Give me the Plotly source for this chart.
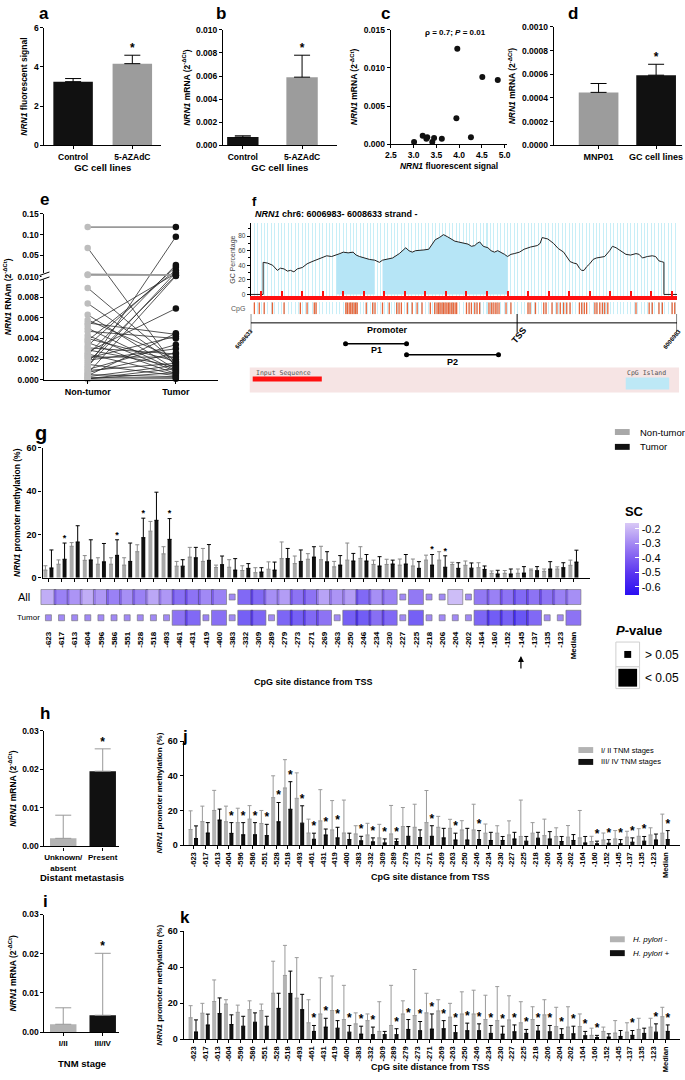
import numpy as np
import plotly.graph_objects as go

W, H = 685, 1080
FONT = "Liberation Sans"

# ---------------- panels a-d : GC cell lines
a_groups = ["Control", "5-AZAdC"]
a_signal = [3.25, 4.17]
a_sd = [0.16, 0.43]
b_groups = ["Control", "5-AZAdC"]
b_mrna = [0.00072, 0.0059]
b_sd = [0.00011, 0.0019]
c_signal = [3.01, 3.20, 3.28, 3.30, 3.41, 3.45, 3.62, 3.94, 3.96, 4.26, 4.51, 4.85]
c_mrna = [0.0003, 0.0011, 0.0007, 0.0009, 0.0003, 0.0008, 0.0007, 0.0034, 0.0125, 0.0009, 0.0088, 0.0084]
d_groups = ["MNP01", "GC cell lines"]
d_mrna = [0.000447, 0.000592]
d_sd = [0.000075, 0.000092]

# ---------------- panel e : paired tissue samples
e_nontumor = [0.118, 0.068, 0.014, 0.013, 0.0089, 0.0074, 0.0063, 0.0058, 0.0055, 0.0053,
              0.0050, 0.0047, 0.0043, 0.0040, 0.0038, 0.0036, 0.0033, 0.0031, 0.0029, 0.0027,
              0.0025, 0.0024, 0.0022, 0.0021, 0.0019, 0.0017, 0.0015, 0.0013, 0.0012, 0.0010,
              0.0009, 0.0007, 0.0006, 0.0005, 0.0004, 0.0003, 0.0002, 0.0001, 0.0001, 0.00005]
e_tumor = [0.118, 0.0012, 0.013, 0.013, 0.0017, 0.0015, 0.0010, 0.0020, 0.0044, 0.016,
           0.0009, 0.0040, 0.0008, 0.0018, 0.022, 0.0006, 0.028, 0.0025, 0.0013, 0.0069,
           0.0005, 0.032, 0.0022, 0.0042, 0.0030, 0.012, 0.0004, 0.018, 0.095, 0.0034,
           0.0016, 0.0026, 0.011, 0.0003, 0.0045, 0.0014, 0.0002, 0.0011, 0.0007, 0.0001]
e_gray_pairs = [0, 2, 3]

# ---------------- panel f : CpG plot of the NRN1 promoter (bp from 6008633)
gc_pos = [0, 48, 48, 65, 85, 103, 115, 129, 142, 154,
          167, 180, 200, 218, 237, 256, 275, 294, 313, 332,
          345, 358, 377, 396, 408, 421, 440, 460, 480, 498,
          510, 523, 536, 549, 575, 600, 612, 625, 638, 651,
          670, 689, 700, 714, 730, 746, 762, 778, 790, 803,
          822, 841, 854, 867, 876, 886, 900, 918, 930, 943,
          956, 969, 982, 994, 1007, 1020, 1040, 1058, 1083, 1109,
          1120, 1128, 1150, 1172, 1190, 1211, 1225, 1236, 1250, 1262,
          1272, 1281, 1290, 1300, 1312, 1325, 1338, 1351, 1370, 1389,
          1400, 1414, 1433, 1452, 1470, 1491, 1503, 1516, 1535, 1554,
          1567, 1580, 1590, 1599, 1599, 1650]
gc_pct = [0, 0, 44, 43, 40, 33, 36, 35, 32, 33,
          31, 35, 37, 42, 45, 48, 50, 53, 52, 54,
          56, 58, 57, 58, 54, 52, 50, 48, 47, 44,
          47, 48, 50, 50, 56, 64, 60, 58, 60, 60,
          61, 62, 68, 75, 78, 82, 79, 75, 73, 72,
          70, 69, 66, 67, 70, 72, 66, 64, 60, 58,
          60, 58, 55, 52, 55, 56, 58, 62, 65, 67,
          70, 78, 76, 70, 63, 58, 50, 45, 43, 42,
          36, 33, 33, 38, 42, 48, 50, 51, 52, 60,
          66, 64, 60, 55, 54, 56, 55, 50, 52, 53,
          52, 46, 45, 44, 0, 0]
island_start = [332, 504]
island_end = [488, 1000]
cpg_sites_bp = [14, 33, 52, 84, 129, 192, 218, 246, 253, 368, 374, 381, 387, 393, 400, 406, 412,
                447, 472, 481, 510, 536, 565, 574, 583, 606, 625, 644, 663, 695, 712, 721, 727,
                733, 740, 746, 752, 759, 765, 771, 778, 784, 791, 797, 835, 845, 854, 867, 876,
                886, 922, 931, 938, 946, 953, 961, 988, 1007, 1073, 1081, 1102, 1134, 1143, 1166,
                1185, 1198, 1211, 1223, 1236, 1272, 1281, 1291, 1300, 1332, 1340, 1351, 1361,
                1370, 1382, 1491, 1542, 1554, 1580, 1593, 1631, 1641]
seq_len = 1650
tss_bp = 1031
p1_bp = [367, 603]
p2_bp = [603, 959]

# ---------------- panels g, j, k : CpG sites
sites = ["-623", "-617", "-613", "-604", "-596", "-586", "-551", "-528", "-518", "-493",
         "-461", "-431", "-419", "-400", "-383", "-332", "-309", "-289", "-279", "-273",
         "-271", "-269", "-263", "-250", "-246", "-234", "-230", "-227", "-225", "-218",
         "-206", "-204", "-202", "-164", "-160", "-152", "-145", "-137", "-135", "-123", "Median"]

g_nontumor = [3.5, 6.2, 14.5, 8.0, 6.2, 6.2, 5.8, 12.0, 21.5, 11.0,
              5.3, 9.5, 7.5, 4.7, 4.8, 3.3, 2.3, 3.9, 8.8, 6.5,
              8.5, 8.3, 5.0, 8.1, 8.9, 6.1, 6.1, 5.8, 5.4, 8.1,
              8.1, 6.1, 5.7, 4.6, 2.0, 2.0, 2.0, 3.5, 2.9, 4.0, 5.7]
g_nontumor_hi = [5.5, 8.2, 16.2, 10.2, 9.2, 9.2, 9.2, 15.2, 26.0, 14.3,
                 7.5, 14.0, 13.5, 5.8, 8.3, 5.5, 4.6, 7.3, 16.5, 10.0,
                 11.1, 14.5, 7.5, 16.0, 14.3, 8.1, 8.5, 8.6, 8.6, 10.4,
                 12.0, 7.1, 7.7, 6.9, 3.1, 3.3, 4.0, 4.0, 4.0, 5.0, 8.1]
g_tumor = [4.5, 8.5, 16.5, 8.2, 7.3, 10.3, 7.5, 18.5, 26.5, 17.7,
           5.3, 9.2, 8.0, 6.0, 3.5, 4.3, 2.6, 3.5, 8.8, 7.5,
           9.5, 7.3, 5.8, 7.7, 7.7, 5.4, 6.3, 6.3, 4.3, 5.8,
           4.8, 4.3, 4.4, 3.8, 1.7, 1.7, 2.1, 3.2, 4.0, 4.6, 7.2]
g_tumor_hi = [12.8, 16.0, 24.0, 17.5, 15.8, 17.5, 16.0, 27.5, 39.5, 27.3,
              8.3, 14.0, 15.3, 10.0, 8.8, 6.5, 4.6, 7.2, 13.5, 12.8,
              14.3, 12.0, 10.2, 11.2, 10.7, 9.7, 8.1, 10.7, 7.4, 10.7,
              10.1, 6.9, 6.8, 5.4, 3.4, 4.0, 5.1, 5.1, 7.4, 6.9, 12.7]
g_star = [1, 5, 7, 9, 29, 30]

sc_all = [-0.30, -0.45, -0.38, -0.30, -0.37, -0.45, -0.40, -0.45, -0.32, -0.37,
          -0.52, -0.50, -0.42, -0.45, -0.42, -0.55, -0.55, -0.40, -0.35, -0.50,
          -0.50, -0.33, -0.38, -0.35, -0.55, -0.40, -0.45, -0.42, -0.48, -0.42,
          -0.42, -0.25, -0.42, -0.48, -0.45, -0.50, -0.55, -0.50, -0.50, -0.45, -0.40]
sig_all = [1, 1, 1, 1, 1, 1, 1, 1, 1, 1,
           1, 1, 1, 1, 0, 1, 1, 1, 1, 1,
           1, 1, 1, 1, 1, 1, 1, 0, 1, 0,
           0, 1, 0, 1, 1, 1, 1, 1, 1, 1, 1]
sc_tumor = [-0.42, -0.42, -0.42, -0.42, -0.42, -0.42, -0.42, -0.42, -0.42, -0.42,
            -0.50, -0.55, -0.45, -0.52, -0.42, -0.60, -0.57, -0.42, -0.57, -0.60,
            -0.55, -0.50, -0.42, -0.60, -0.62, -0.52, -0.55, -0.42, -0.60, -0.42,
            -0.42, -0.42, -0.42, -0.57, -0.62, -0.60, -0.68, -0.55, -0.42, -0.42, -0.50]
sig_tumor = [0, 0, 0, 0, 0, 0, 0, 0, 0, 0,
             1, 1, 0, 1, 0, 1, 1, 0, 1, 1,
             1, 1, 0, 1, 1, 1, 1, 0, 1, 0,
             0, 0, 0, 1, 1, 1, 1, 1, 0, 0, 1]

j_early = [9, 13.6, 20, 13.5, 13, 15, 12.5, 27.4, 33, 27,
           7, 14, 8.8, 7, 6.5, 5.9, 4.2, 6.5, 10.7, 10.3,
           13, 10.3, 9.7, 8.8, 8.8, 6.9, 6.9, 5.9, 5, 6.9,
           5.5, 5, 4.6, 4.2, 2.1, 3, 3.6, 4.6, 5.1, 5.9, 6.9]
j_early_hi = [19.8, 22.5, 31.6, 22.5, 21.3, 22.8, 20, 40, 49.3, 41.7,
              15, 32, 25.7, 26, 11.2, 12.6, 12, 22.9, 21.7, 23.6,
              31.5, 16.6, 14.9, 14.1, 23.6, 12.2, 11.2, 14, 26, 13,
              15, 10, 11.3, 20, 5.1, 7, 8.4, 8, 9.5, 10, 17.9]
j_late = [3.8, 7, 14.5, 6.8, 6, 6, 5.5, 13.5, 20.7, 12.7,
          3.4, 5.9, 4.2, 3.2, 2.5, 1.9, 1.3, 2.1, 5.1, 4.4,
          5.1, 4.2, 3, 3, 3.2, 2.7, 2.7, 3.6, 2.3, 4,
          3.6, 2.1, 2.7, 1.3, 0.8, 1.1, 0.8, 1.7, 2.3, 3, 3.2]
j_late_hi = [11.1, 13, 20.8, 13, 13, 13, 12, 24.6, 36.6, 22.7,
             6.9, 9.3, 10.3, 6.9, 5.1, 4.2, 3.6, 3.6, 10.7, 8.8,
             11.2, 9.7, 6.9, 9.7, 8.4, 7.4, 5, 7.4, 5, 7.4,
             7.8, 5, 6.1, 5, 2.3, 3.2, 3.2, 4.2, 5, 6.4, 8.4]
j_star = [3, 4, 5, 6, 7, 8, 9, 10, 11, 12, 14, 15, 16, 17, 20, 22, 24, 34, 35, 36, 37, 38, 40]

k_neg = [12, 14.5, 21, 19.6, 15, 16.5, 16, 25.6, 35.5, 22.9,
         9.2, 14.1, 16, 11, 8.6, 10.4, 4.4, 7.7, 14.1, 13.2,
         14.7, 15.8, 12.3, 14.1, 14.1, 11, 10.4, 10.8, 9.2, 11,
         13.6, 7.1, 6.8, 7.1, 2.2, 4.4, 3.5, 4, 5.5, 6.8, 12.6]
k_neg_hi = [18.7, 20, 33, 22, 19, 21.4, 19.6, 43.4, 52.2, 45.4,
            22, 34.2, 35.2, 30, 14.7, 14.1, 20.9, 30, 21.4, 38.8,
            25.6, 22, 20, 26.4, 27.3, 24.5, 29.3, 24.2, 20.9, 18.1,
            22, 17.8, 18.1, 14.1, 6.2, 6.8, 10.4, 9.2, 11.7, 11.7, 17.8]
k_pos = [4.1, 8, 14.3, 8.2, 7.3, 9.5, 7.3, 17.2, 25.5, 16.5,
         4.4, 6.8, 6.2, 4, 2.9, 2.6, 2.6, 2.6, 5.5, 4.8,
         5.7, 5.9, 3.7, 4.8, 4.8, 3.3, 2.9, 4.2, 3.3, 4.6,
         4.2, 2.7, 3.1, 2, 0.9, 1.3, 1.6, 2.2, 3.3, 4, 4.4]
k_pos_hi = [10.8, 14, 23, 13.6, 12.8, 14.7, 12.8, 25.6, 37.9, 25,
            7.7, 11.7, 10.4, 7.7, 7.3, 6.8, 4.4, 5.9, 11, 9.9,
            14.1, 10.4, 7.7, 9, 8.6, 7.7, 7.3, 8, 5.5, 7.7,
            7.7, 5.9, 7.3, 4.4, 2.2, 3.1, 4.9, 4.9, 6.2, 8.6, 8]
k_star = [10, 11, 12, 13, 14, 15, 17, 18, 19, 20, 21, 22, 23, 24, 25, 26, 27, 28, 29, 30,
          31, 32, 33, 34, 37, 39, 40]

# ---------------- panels h, i
h_groups = ["Unknown/<br>absent", "Present"]
h_mrna = [0.0021, 0.0195]
h_sd = [0.006, 0.0058]
i_groups = ["I/II", "III/IV"]
i_mrna = [0.002, 0.0043]
i_sd = [0.0042, 0.0158]

GRAY = "#9c9c9c"
LGRAY = "#b3b3b3"
BLACK = "#111111"


def xd(a, b):
    return [a / W, b / W]


def yd(top, bot):
    return [1 - bot / H, 1 - top / H]


def P(x, y):
    return x / W, 1 - y / H


def ref(n):
    s = "" if n == 1 else str(n)
    return "x" + s, "y" + s


TICK = dict(family=FONT, size=8.5, color="black", weight="bold")


def ax(dom, rng, **kw):
    d = dict(domain=dom, range=rng, showline=True, linecolor="black", linewidth=1.2,
             ticks="outside", ticklen=3, tickwidth=1, tickcolor="black",
             showgrid=False, zeroline=False, tickfont=TICK, fixedrange=True)
    d.update(kw)
    return d


def ttl(text, size=8.5, standoff=4, weight="bold"):
    return dict(text=text, standoff=standoff,
                font=dict(family=FONT, size=size, color="black", weight=weight))


lay = {}


def axes(n, xdict, ydict):
    xa, ya = ref(n)
    kx = "xaxis" if n == 1 else "xaxis%d" % n
    ky = "yaxis" if n == 1 else "yaxis%d" % n
    xdict["anchor"] = ya
    ydict["anchor"] = xa
    lay[kx] = xdict
    lay[ky] = ydict


def up_err(sd, color="black", cap=8):
    return dict(type="data", array=sd, arrayminus=[0] * len(sd), symmetric=False,
                color=color, thickness=1, width=cap)


traces = []


def bar(n, x, y, colors, width, sd=None, offset=None, name=None, errcolor="black", cap=8):
    xa, ya = ref(n)
    kw = dict(x=x, y=y, width=width, marker=dict(color=colors, line=dict(width=0)),
              xaxis=xa, yaxis=ya, hoverinfo="skip", showlegend=False)
    if offset is not None:
        kw["offset"] = offset
    if sd is not None:
        kw["error_y"] = up_err(sd, errcolor, cap)
    if name is not None:
        kw["name"] = name
    traces.append(go.Bar(**kw))


def stars(n, xs, ys, size=12):
    xa, ya = ref(n)
    traces.append(go.Scatter(x=xs, y=ys, mode="text", text=["*"] * len(xs),
                             textposition="top center", cliponaxis=False,
                             textfont=dict(family=FONT, size=size, color="black", weight="bold"),
                             xaxis=xa, yaxis=ya, showlegend=False, hoverinfo="skip"))


# ---------- a
bar(1, [0, 1], a_signal, [BLACK, GRAY], 0.667, a_sd)
stars(1, [1], [a_signal[1] + a_sd[1]])
axes(1, ax(xd(39, 157), [-0.483, 1.483], tickvals=[0, 1], ticktext=a_groups,
           title=ttl("GC cell lines", 9.5, 3)),
     ax(yd(23, 141.7), [0, 6], tickvals=[0, 2, 4, 6],
        title=ttl("<i>NRN1</i> fluorescent signal")))

# ---------- b
bar(2, [0, 1], b_mrna, [BLACK, GRAY], 0.53, b_sd)
stars(2, [1], [b_mrna[1] + b_sd[1]])
axes(2, ax(xd(220, 335), [-0.333, 1.583], tickvals=[0, 1], ticktext=b_groups,
           title=ttl("GC cell lines", 9.5, 3)),
     ax(yd(25, 141.7), [0, 0.010], dtick=0.002, tickformat=".3f",
        title=ttl("<i>NRN1</i> mRNA (2<sup>-ΔCt</sup>)")))

# ---------- c
traces.append(go.Scatter(x=c_signal, y=c_mrna, mode="markers", xaxis="x3", yaxis="y3",
                         marker=dict(color=BLACK, size=6), showlegend=False, hoverinfo="skip"))
axes(3, ax(xd(390, 508), [2.5, 5.06], dtick=0.5, tickformat=".1f",
           title=ttl("<i>NRN1</i> fluorescent signal", 8.5, 3)),
     ax(yd(25, 140.5), [0, 0.015], dtick=0.005, tickformat=".3f",
        title=ttl("<i>NRN1</i> mRNA (2<sup>-ΔCt</sup>)")))

# ---------- d
bar(4, [0, 1], d_mrna, [GRAY, BLACK], 0.69, d_sd)
stars(4, [1], [d_mrna[1] + d_sd[1]])
axes(4, ax(xd(555, 685), [-0.78, 1.45], tickvals=[0, 1], ticktext=d_groups,
           tickfont=dict(family=FONT, size=9, color="black", weight="bold")),
     ax(yd(22, 141.7), [0, 0.001], dtick=0.0002, tickformat=".4f",
        title=ttl("<i>NRN1</i> mRNA (2<sup>-ΔCt</sup>)")))


# ---------- e (broken axis)
def brk(v):
    if v <= 0.01:
        return v * 1000
    return float(np.interp(v, [0.01, 0.05, 0.10, 0.15], [10, 12.05, 14.06, 16.08]))


lx, ly, gx, gy = [], [], [], []
for k, (a, b) in enumerate(zip(e_nontumor, e_tumor)):
    if k in e_gray_pairs:
        gx += [0, 1, None]
        gy += [brk(a), brk(b), None]
    else:
        lx += [0, 1, None]
        ly += [brk(a), brk(b), None]
traces.append(go.Scatter(x=lx, y=ly, mode="lines", line=dict(color="#2a2a2a", width=0.8),
                         xaxis="x5", yaxis="y5", showlegend=False, hoverinfo="skip"))
traces.append(go.Scatter(x=gx, y=gy, mode="lines", line=dict(color="#9a9a9a", width=1.6),
                         xaxis="x5", yaxis="y5", showlegend=False, hoverinfo="skip"))
traces.append(go.Scatter(x=[0] * len(e_nontumor), y=[brk(v) for v in e_nontumor], mode="markers",
                         marker=dict(color="#bdbdbd", size=6.5), cliponaxis=False,
                         xaxis="x5", yaxis="y5", showlegend=False, hoverinfo="skip"))
traces.append(go.Scatter(x=[1] * len(e_tumor), y=[brk(v) for v in e_tumor], mode="markers",
                         marker=dict(color=BLACK, size=6.5), cliponaxis=False,
                         xaxis="x5", yaxis="y5", showlegend=False, hoverinfo="skip"))
e_ticks = [0, 0.002, 0.004, 0.006, 0.008, 0.010, 0.05, 0.10, 0.15]
e_ticktext = ["0.000", "0.002", "0.004", "0.006", "0.008", "0.010", "0.05", "0.10", "0.15"]
axes(5, ax(xd(39, 215), [-0.49, 1.48], tickvals=[0, 1], ticktext=["Non-tumor", "Tumor"],
           tickfont=dict(family=FONT, size=9, color="black", weight="bold")),
     ax(yd(210.7, 378.3), [0, 16.08], tickvals=[brk(v) for v in e_ticks], ticktext=e_ticktext,
        title=ttl("<i>NRN1</i> RNAm (2<sup>-ΔCt</sup>)")))

# ---------- f : GC plot
for s0, s1 in zip(island_start, island_end):
    xs = [p for p in gc_pos if s0 <= p <= s1]
    ys = [v for p, v in zip(gc_pos, gc_pct) if s0 <= p <= s1]
    traces.append(go.Scatter(x=xs, y=ys, mode="lines", fill="tozeroy", fillcolor="#b6e5f6",
                             line=dict(width=0), xaxis="x6", yaxis="y6",
                             showlegend=False, hoverinfo="skip"))
traces.append(go.Scatter(x=gc_pos, y=gc_pct, mode="lines", line=dict(color="#222", width=1),
                         xaxis="x6", yaxis="y6", showlegend=False, hoverinfo="skip"))
CYAN = "#c8eef7"
axes(6, ax(xd(248, 680), [0, seq_len], showline=True, linecolor="#ff1010", linewidth=4,
           ticks="inside", tickcolor="#ff1010", ticklen=5, tickwidth=1.5, tick0=40, dtick=79.5,
           showticklabels=False, showgrid=True, gridcolor=CYAN, gridwidth=1,
           minor=dict(dtick=13.25, tick0=0, showgrid=True, gridcolor=CYAN, gridwidth=1)),
     ax(yd(220, 294), [-2.5, 98], tickvals=[0, 20, 40, 60, 80], linewidth=1, ticklen=3,
        tickfont=dict(family=FONT, size=6.5, color="#444"),
        minor=dict(dtick=10, ticks="outside", ticklen=2),
        title=dict(text="GC Percentage", standoff=1,
                   font=dict(family=FONT, size=7, color="#444"))))

traces.append(go.Scatter(x=cpg_sites_bp, y=[0] * len(cpg_sites_bp), mode="markers",
                         marker=dict(symbol="line-ns", size=10, line=dict(color="#e5653a", width=1.3)),
                         xaxis="x7", yaxis="y7", showlegend=False, hoverinfo="skip"))
axes(7, dict(domain=xd(248, 680), range=[0, seq_len], showline=False, showticklabels=False,
             ticks="", showgrid=True, gridcolor=CYAN, dtick=79.5, tick0=40, zeroline=False,
             minor=dict(dtick=13.25, tick0=0, showgrid=True, gridcolor=CYAN)),
     dict(domain=yd(300, 314), range=[-1, 1], visible=False))

# promoter / primer annotation track
traces.append(go.Scatter(x=[0, seq_len], y=[0, 0], mode="lines", line=dict(color="black", width=1),
                         xaxis="x8", yaxis="y8", showlegend=False, hoverinfo="skip"))
traces.append(go.Scatter(x=[0, tss_bp, seq_len], y=[0, 0, 0], mode="markers",
                         marker=dict(symbol="line-ns", size=14, line=dict(color="black", width=1)),
                         xaxis="x8", yaxis="y8", showlegend=False, hoverinfo="skip"))
for pr, yy in ((p1_bp, -1.92), (p2_bp, -2.92)):
    traces.append(go.Scatter(x=pr, y=[yy, yy], mode="lines+markers",
                             line=dict(color="black", width=1.5),
                             marker=dict(color="black", size=5),
                             xaxis="x8", yaxis="y8", showlegend=False, hoverinfo="skip"))
axes(8, dict(domain=xd(248, 680), range=[0, seq_len], visible=False),
     dict(domain=yd(312, 365), range=[-4, 0.8], visible=False))

# ---------- g : bars + SC heat rows
sd_nt = [h - m for h, m in zip(g_nontumor_hi, g_nontumor)]
sd_t = [h - m for h, m in zip(g_tumor_hi, g_tumor)]
idx = list(range(len(sites)))
bar(9, idx, g_nontumor, "#a8a8a8", 0.3, sd_nt, offset=-0.38, name="Non-tumor",
    errcolor="#8a8a8a", cap=2)
bar(9, idx, g_tumor, BLACK, 0.3, sd_t, offset=0.08, name="Tumor", cap=2)
stars(9, [i + 0.23 for i in g_star], [g_tumor_hi[i] for i in g_star], size=9)
axes(9, ax(xd(37, 592), [-0.45, 41.28], tickvals=idx, showticklabels=False),
     ax(yd(447, 578), [0, 60], dtick=20,
        tickfont=dict(family=FONT, size=9, color="black", weight="bold"),
        title=ttl("<i>NRN1</i> promoter methylation (%)", 8.5, 4)))

for row, sc, sig in (("All", sc_all, sig_all), ("Tumor", sc_tumor, sig_tumor)):
    traces.append(go.Scatter(x=idx, y=[row] * len(idx), mode="markers", cliponaxis=False,
                             marker=dict(symbol="square", color=sc, coloraxis="coloraxis",
                                         size=[15 if s else 6 for s in sig],
                                         line=dict(color="#333", width=0.6)),
                             xaxis="x10", yaxis="y10", showlegend=False, hoverinfo="skip"))
axes(10, ax(xd(37, 592), [-0.45, 41.28], showline=False, ticks="", tickvals=idx, ticktext=sites,
            tickangle=-90, tickfont=dict(family=FONT, size=8, color="black", weight="bold")),
     dict(domain=yd(585, 630), type="category", categoryarray=["Tumor", "All"],
          range=[-0.55, 1.6], visible=False))

# ---------- h, i
bar(11, [0, 1], h_mrna, [LGRAY, BLACK], 0.67, h_sd, errcolor="#999")
stars(11, [1], [h_mrna[1] + h_sd[1]])
axes(11, ax(xd(39, 115), [-0.475, 1.425], tickvals=[0, 1], ticktext=h_groups,
            tickfont=dict(family=FONT, size=8, color="black", weight="bold")),
     ax(yd(732.5, 849.3), [0, 0.03], tickvals=[0, 0.01, 0.02, 0.03],
        ticktext=["0.00", "0.01", "0.02", "0.03"],
        title=ttl("<i>NRN1</i> mRNA (2<sup>-ΔCt</sup>)")))
bar(12, [0, 1], i_mrna, [LGRAY, BLACK], 0.67, i_sd, errcolor="#999")
stars(12, [1], [i_mrna[1] + i_sd[1]])
axes(12, ax(xd(39, 115), [-0.475, 1.425], tickvals=[0, 1], ticktext=i_groups,
            tickfont=dict(family=FONT, size=8, color="black", weight="bold")),
     ax(yd(918, 1036.7), [0, 0.03], tickvals=[0, 0.01, 0.02, 0.03],
        ticktext=["0.00", "0.01", "0.02", "0.03"],
        title=ttl("<i>NRN1</i> mRNA (2<sup>-ΔCt</sup>)")))

# ---------- j, k
for n, a_m, a_h, b_m, b_h, st, names, top, bot in (
        (13, j_early, j_early_hi, j_late, j_late_hi, j_star,
         ("I/ II TNM stages", "III/ IV TNM stages"), 743, 848),
        (14, k_neg, k_neg_hi, k_pos, k_pos_hi, k_star,
         ("H. pylori -", "H. pylori +"), 935, 1044)):
    bar(n, idx, a_m, LGRAY, 0.34, [h - m for h, m in zip(a_h, a_m)], offset=-0.42,
        name=names[0], errcolor="#9a9a9a", cap=2)
    bar(n, idx, b_m, BLACK, 0.34, [h - m for h, m in zip(b_h, b_m)], offset=0.04,
        name=names[1], cap=2)
    stars(n, [i + 0.21 for i in st], [b_h[i] for i in st], size=12)
    axes(n, ax(xd(180, 683), [-0.84, 41.25], tickvals=idx, ticktext=sites, tickangle=-90,
               tickfont=dict(family=FONT, size=7.5, color="black", weight="bold")),
         ax(yd(top, bot), [0, 60], dtick=20,
            tickfont=dict(family=FONT, size=9, color="black", weight="bold"),
            title=ttl("<i>NRN1</i> promoter methylation (%)", 8, 3)))

# ---------- annotations
ann = []


def note(x, y, text, size=9, bold=True, anchor="center", color="black", family=FONT, **kw):
    xx, yy = P(x, y)
    d = dict(x=xx, y=yy, xref="paper", yref="paper", text=text, showarrow=False,
             xanchor=anchor, yanchor="middle",
             font=dict(family=family, size=size, color=color,
                       weight="bold" if bold else "normal"))
    d.update(kw)
    ann.append(d)


for letter, x, y, s in (("a", 38, 9, 17), ("b", 218, 9, 17), ("c", 385, 9, 17),
                        ("d", 575, 9, 17), ("e", 39, 196, 17), ("f", 252, 198, 13),
                        ("g", 35, 432, 20), ("h", 40, 715, 17), ("i", 40, 905, 17),
                        ("j", 181, 738, 17), ("k", 181, 921, 17)):
    note(x, y, letter, s)

note(455, 28, "ρ = 0.7; <i>P</i> = 0.01", 8)
note(250, 211, "<i>NRN1</i> chr6: 6006983- 6008633 strand -", 9, anchor="left")
note(244, 307, "CpG", 7, bold=False, anchor="right", color="#555")
for txt, x, y, s, ang in (("Promoter", 387, 328, 9, 0), ("P1", 375, 348, 9, 0),
                          ("P2", 452, 360, 9, 0), ("TSS", 520, 333, 9, -50),
                          ("6008633", 241, 337, 6, -50), ("6006983", 675, 337, 6, -50)):
    note(x, y, txt, s, textangle=ang)
note(251, 371, "Input Sequence", 6.5, bold=False, anchor="left", color="#555",
     family="DejaVu Sans Mono")
note(627, 371, "CpG Island", 6.5, bold=False, anchor="left", color="#555",
     family="DejaVu Sans Mono")

# x-axis titles placed directly
note(312, 683, "CpG site distance from TSS", 9)
note(77, 881, "Distant metastasis", 9.5)
note(77, 1068, "TNM stage", 9.5)
note(430, 880, "CpG site distance from TSS", 9)
note(430, 1072, "CpG site distance from TSS", 9)

note(10, 598, "All", 11, bold=False, anchor="left")
note(9, 618, "Tumor", 8, bold=False, anchor="left")
note(616, 631, "<i>P</i>-value", 13, anchor="left")
note(645, 656, "> 0.05", 12, bold=False, anchor="left")
note(645, 679, "< 0.05", 12, bold=False, anchor="left")

ax_, ay_ = P(0, 657)
ann.append(dict(x=36, y=ay_, xref="x10", yref="paper", text="", showarrow=True,
                arrowhead=2, arrowsize=1, arrowwidth=1.2, arrowcolor="black", ax=0, ay=14))

# ---------- shapes
shp = []


def rect(x0, y0, x1, y1, fill, line=None, lw=1, layer="above"):
    a0, b0 = P(x0, y0)
    a1, b1 = P(x1, y1)
    shp.append(dict(type="rect", xref="paper", yref="paper", x0=a0, y0=b1, x1=a1, y1=b0,
                    fillcolor=fill, line=dict(color=line or fill, width=lw if line else 0),
                    layer=layer))


def seg(x0, y0, x1, y1, color="black", w=1):
    a0, b0 = P(x0, y0)
    a1, b1 = P(x1, y1)
    shp.append(dict(type="line", xref="paper", yref="paper", x0=a0, y0=b0, x1=a1, y1=b1,
                    line=dict(color=color, width=w), layer="above"))


def key(x, y, color, text, size, italic=False):
    rect(x, y - 3, x + 15, y + 3, color)
    note(x + 23 if size > 8.5 else x + 21, y, "<i>%s</i>" % text if italic else text,
         size, bold=False, anchor="left")


rect(247, 366, 682, 391, "#f6e4e4", layer="below")
rect(250, 375, 320, 380, "#ff1010")
rect(628, 376, 672, 388, "#bde8f6")

rect(36, 270.5, 43, 277, "white")
seg(34, 273, 44, 269.5)
seg(34, 278, 44, 274.5)

rect(618, 643, 642, 668, "white", "#cfcfcf", 1)
rect(626.5, 652, 633.5, 659, "black")
rect(618, 668, 642, 690, "white", "#cfcfcf", 1)
rect(620.5, 670, 639.5, 688, "black")

# legends drawn as keys
key(617, 431, "#a8a8a8", "Non-tumor", 9.5)
key(617, 446, BLACK, "Tumor", 9.5)
key(580, 752, LGRAY, "I/ II TNM stages", 7.5)
key(580, 764, BLACK, "III/ IV TNM stages", 7.5)
key(612, 943, LGRAY, "H. pylori -", 8, italic=True)
key(612, 957, BLACK, "H. pylori +", 8, italic=True)

# ---------- figure
fig = go.Figure(data=traces)
fig.update_layout(
    width=W, height=H, margin=dict(l=0, r=0, t=0, b=0),
    paper_bgcolor="white", plot_bgcolor="white", showlegend=False,
    font=dict(family=FONT, size=8, color="black"),
    barmode="overlay", annotations=ann, shapes=shp,
    coloraxis=dict(cmin=-0.66, cmax=-0.163,
                   colorscale=[[0, "#2a0ff2"], [0.3, "#5a35f0"], [0.6, "#8f6ff2"], [1, "#d9c9f6"]],
                   colorbar=dict(x=617 / W, xanchor="left", y=1 - 493 / H, yanchor="top",
                                 len=113 / H, lenmode="fraction", thickness=14, outlinewidth=0,
                                 tickvals=[-0.2, -0.3, -0.4, -0.5, -0.6],
                                 ticktext=["-0.2", "-0.3", "-0.4", "-0.5", "-0.6"],
                                 ticks="inside", ticklen=4, tickcolor="white",
                                 tickfont=dict(family=FONT, size=11, color="black"),
                                 title=dict(text="SC", side="top",
                                            font=dict(family=FONT, size=13, weight="bold")))),
    **lay)

# the page's default body margin would shift the figure by 8px
fig.write_html("out.html", config={"displayModeBar": False},
               post_script="document.body.style.margin='0';document.body.style.overflow='hidden';")
